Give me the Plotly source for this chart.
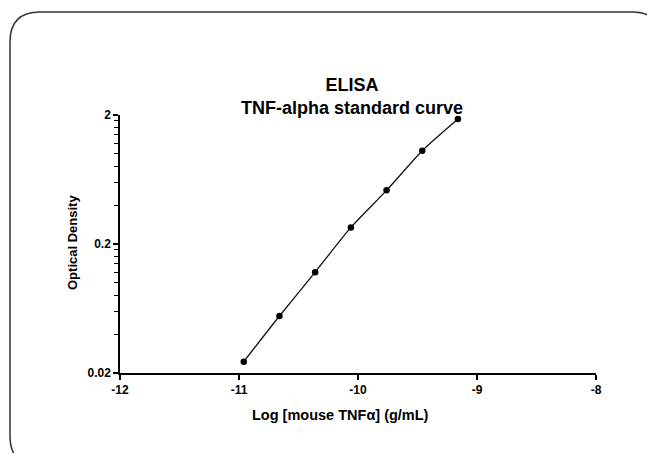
import plotly.graph_objects as go

# Data
log_conc = [-10.96, -10.66, -10.36, -10.06, -9.76, -9.46, -9.16]
optical_density = [0.0245, 0.0553, 0.121, 0.269, 0.521, 1.057, 1.86]

x_ticks = [-12, -11, -10, -9, -8]
y_ticks = [0.02, 0.2, 2]
y_tick_labels = ["0.02", "0.2", "2"]
y_minor = [0.02 * k for k in range(2, 10)] + [0.2 * k for k in range(2, 10)]

title_text = "<b>ELISA<br>TNF-alpha standard curve</b>"
x_title = "<b>Log [mouse TNFα] (g/mL)</b>"
y_title = "<b>Optical Density</b>"

W, H = 647, 453
ML, MR, MT, MB = 120, 51, 115, 80

FONT = "Liberation Sans Narrow, Arial Narrow, Liberation Sans, Arial, sans-serif"

fig = go.Figure()
fig.add_trace(go.Scatter(
    x=log_conc, y=optical_density, mode="lines+markers",
    line=dict(color="#111111", width=1.3, shape="spline", smoothing=0.6),
    marker=dict(color="black", size=6.5),
    showlegend=False, cliponaxis=False,
))

# pixel -> paper coordinates for decorative placement
pw, ph = W - ML - MR, H - MT - MB
def px(x):
    return (x - ML) / pw
def py(y):
    return (H - MB - y) / ph

x0, x1, y0, y1, r = 10, 662, 12, 466, 30
path = (f"M {px(x0)},{py(y0 + r)} Q {px(x0)},{py(y0)} {px(x0 + r)},{py(y0)} "
        f"L {px(x1 - r)},{py(y0)} Q {px(x1)},{py(y0)} {px(x1)},{py(y0 + r)} "
        f"L {px(x1)},{py(y1 - r)} Q {px(x1)},{py(y1)} {px(x1 - r)},{py(y1)} "
        f"L {px(x0 + r)},{py(y1)} Q {px(x0)},{py(y1)} {px(x0)},{py(y1 - r)} Z")
fig.add_shape(type="path", xref="paper", yref="paper", path=path,
              line=dict(color="#333333", width=1.5), layer="below")

fig.add_annotation(text=title_text, xref="paper", yref="paper",
                   x=px(352), y=py(96), xanchor="center", yanchor="middle",
                   showarrow=False, align="center",
                   font=dict(size=18, family=FONT, color="black"))
fig.add_annotation(text=x_title, xref="paper", yref="paper",
                   x=px(340), y=py(415), xanchor="center", yanchor="middle",
                   showarrow=False, font=dict(size=14.5, family=FONT, color="black"))
fig.add_annotation(text=y_title, xref="paper", yref="paper",
                   x=px(72), y=py(243), xanchor="center", yanchor="middle",
                   textangle=-90, showarrow=False,
                   font=dict(size=13, family=FONT, color="black"))

fig.update_layout(
    width=W, height=H,
    margin=dict(l=ML, r=MR, t=MT, b=MB),
    paper_bgcolor="white", plot_bgcolor="white",
    font=dict(family=FONT, color="black"),
)
fig.update_xaxes(
    range=[-12, -8], tickvals=x_ticks, ticktext=[f"<b>{v}</b>" for v in x_ticks],
    showline=True, linecolor="black", linewidth=1.5,
    ticks="outside", ticklen=5, tickwidth=1.5, tickcolor="black",
    showgrid=False, zeroline=False,
    tickfont=dict(size=12, family=FONT),
)
fig.update_yaxes(
    type="log", range=[-1.69897, 0.30103],
    tickvals=y_ticks, ticktext=[f"<b>{t}</b>" for t in y_tick_labels],
    showline=True, linecolor="black", linewidth=1.5,
    ticks="outside", ticklen=5, tickwidth=1.5, tickcolor="black",
    minor=dict(tickvals=y_minor, ticks="outside", ticklen=4, tickwidth=1.2,
               tickcolor="black", showgrid=False),
    showgrid=False, zeroline=False,
    tickfont=dict(size=12, family=FONT),
)

fig.write_html("out.html", config={"displayModeBar": False},
               post_script="document.body.style.margin='0';"
                           "document.body.style.overflow='hidden';")
